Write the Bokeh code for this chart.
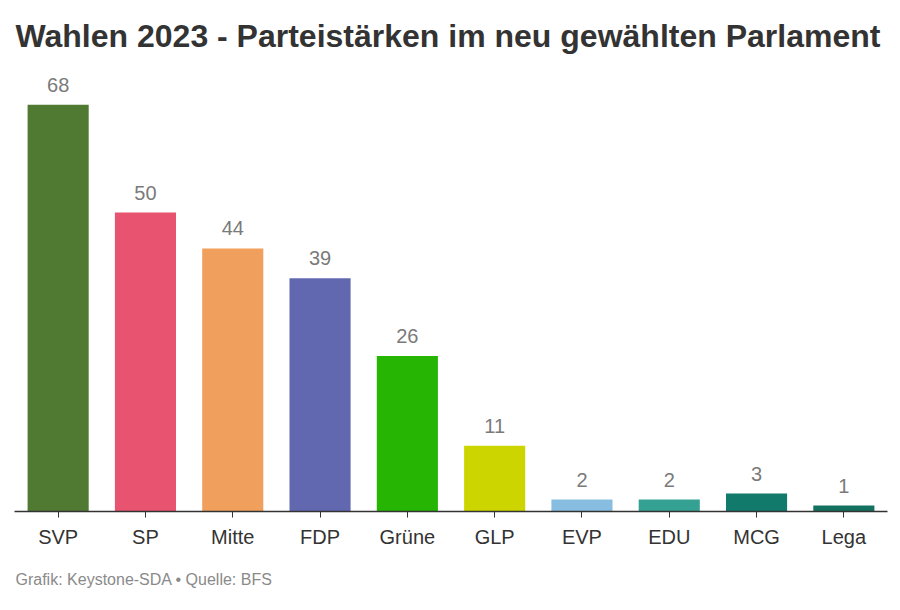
from bokeh.plotting import figure
from bokeh.models import Range1d, Title, ColumnDataSource
from bokeh.core.properties import value
from bokeh.embed import file_html
from bokeh.resources import INLINE

parties = ["SVP", "SP", "Mitte", "FDP", "Grüne", "GLP", "EVP", "EDU", "MCG", "Lega"]
seats = [68, 50, 44, 39, 26, 11, 2, 2, 3, 1]
colors = ["#507a32", "#e8536f", "#f0a05c", "#6268b0", "#25b502",
          "#cdd500", "#87bde0", "#34a193", "#117a6b", "#13725f"]

FONT = "Liberation Sans"

src = ColumnDataSource(dict(x=parties, top=seats, color=colors,
                            label=[str(v) for v in seats]))

p = figure(x_range=parties, y_range=Range1d(0, 74.75), width=900, height=610,
           output_backend="svg", toolbar_location=None, y_axis_location=None,
           min_border_left=14, min_border_right=13, min_border_top=64,
           min_border_bottom=99, background_fill_color="white",
           border_fill_color="white", outline_line_color=None)

p.title.text = "Wahlen 2023 - Parteistärken im neu gewählten Parlament"
p.title.text_font = FONT
p.title.text_font_size = "32px"
p.title.text_font_style = "bold"
p.title.text_color = "#333333"
p.title.align = "left"
p.title.offset = 1
p.title.standoff = 22

p.xgrid.visible = False
p.ygrid.visible = False
p.x_range.range_padding = 0

p.vbar(x="x", top="top", width=0.7, color="color", source=src, line_color=None)
p.text(x="x", y="top", text="label", source=src, text_align="center",
       text_baseline="alphabetic", y_offset=-20, text_color="#7a7a7a",
       text_font=value(FONT), text_font_size="20px")

ax = p.xaxis[0]
ax.axis_line_color = "#333333"
ax.axis_line_width = 1.5
ax.major_tick_line_color = "#333333"
ax.major_tick_out = 6
ax.major_tick_in = 0
ax.minor_tick_line_color = None
ax.major_label_text_font = FONT
ax.major_label_text_font_size = "20px"
ax.major_label_text_color = "#333333"
ax.major_label_standoff = 8

foot = Title(text="Grafik: Keystone-SDA • Quelle: BFS", text_font=FONT,
             text_font_size="16px", text_font_style="normal", text_color="#8a8a8a",
             align="left", offset=1, standoff=41, vertical_align="top")
p.add_layout(foot, "below")

open("out.html", "w").write(file_html(p, INLINE))
